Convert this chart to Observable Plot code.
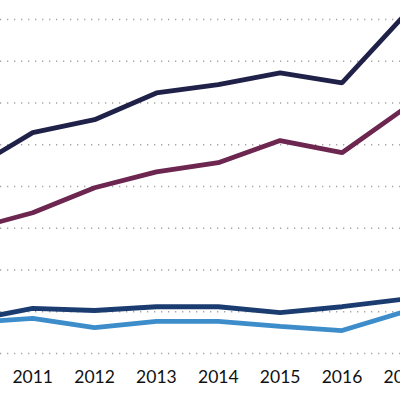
<!DOCTYPE html>
<html>
<head>
<meta charset="utf-8">
<script src="https://cdn.jsdelivr.net/npm/d3@7"></script>
<script src="https://cdn.jsdelivr.net/npm/@observablehq/plot@0.6"></script>
<style>
  html, body { margin: 0; padding: 0; background: #fff; overflow: hidden; }
  #chart { width: 400px; height: 400px; }
</style>
</head>
<body>
<div id="chart"></div>
<script>
// years shown (2010 and 2017 fall partly outside the visible window)
const years = [2010, 2011, 2012, 2013, 2014, 2015, 2016, 2017];
const tickYears = [2011, 2012, 2013, 2014, 2015, 2016, 2017];
const gridValues = [0, 1, 2, 3, 4, 5, 6, 7, 8];

// series values, in gridline units
const seriesTop    = [4.40, 5.29, 5.60, 6.24, 6.44, 6.72, 6.48, 8.09];
const seriesPlum   = [2.97, 3.37, 3.97, 4.35, 4.57, 5.10, 4.81, 5.86];
const seriesDark   = [0.79, 1.08, 1.03, 1.12, 1.12, 0.98, 1.12, 1.30];
const seriesLight  = [0.74, 0.84, 0.62, 0.77, 0.77, 0.65, 0.55, 1.00];

const series = [
  {name: "s1", values: seriesTop, color: "#1f2148"},
  {name: "s2", values: seriesPlum, color: "#6c2650"},
  {name: "s3", values: seriesDark, color: "#1b3c70"},
  {name: "s4", values: seriesLight, color: "#3d8dcb"}
];

const rowsFor = s => years.map((yr, i) => ({year: yr, value: s.values[i]}));

const chart = Plot.plot({
  width: 400,
  height: 400,
  marginTop: 19,
  marginBottom: 47,
  marginLeft: 0,
  marginRight: 0,
  style: {background: "#fff", fontFamily: "Lato, 'Open Sans', sans-serif"},
  x: {domain: [2010.4795, 2016.9457], axis: null},
  y: {domain: [0, 8], axis: null},
  marks: [
    Plot.ruleY(gridValues, {stroke: "#a6a6a6", strokeWidth: 1.3, strokeDasharray: "1.3,5.7"}),
    ...series.slice().reverse().map(s =>
      Plot.line(rowsFor(s), {
        x: "year", y: "value", stroke: s.color, strokeWidth: 4.8,
        strokeLinejoin: "miter", strokeLinecap: "butt"
      })
    ),
    Plot.text(tickYears, {
      x: d => d, frameAnchor: "bottom", dy: 24, lineAnchor: "middle",
      text: d => String(d), fontSize: 17.5, fill: "#111"
    })
  ]
});

document.getElementById("chart").append(chart);
</script>
</body>
</html>
